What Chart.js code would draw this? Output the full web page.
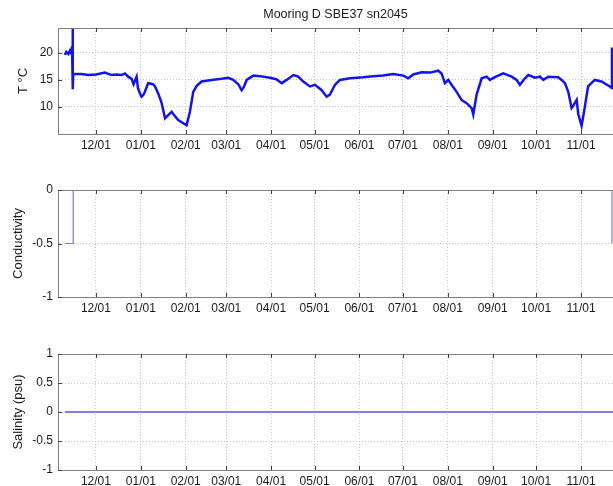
<!DOCTYPE html>
<html>
<head>
<meta charset="utf-8">
<title>Mooring D SBE37 sn2045</title>
<script src="https://cdn.jsdelivr.net/npm/chart.js@4.4.0/dist/chart.umd.min.js"></script>
<style>
  html, body { margin: 0; padding: 0; background: #fff; overflow: hidden; }
  #wrap { position: relative; width: 613px; height: 486px; }
  #wrap canvas { position: absolute; left: 0; top: 0; }
</style>
</head>
<body>
<div id="wrap">
  <canvas id="temp" width="613" height="486"></canvas>
  <canvas id="cond" width="613" height="486"></canvas>
  <canvas id="sal" width="613" height="486"></canvas>
</div>
<script>
// days counted from 11/01 of the first year
const monthDays = [30, 61, 92, 120, 151, 181, 212, 242, 273, 304, 334, 365];
const monthLabels = ['12/01', '01/01', '02/01', '03/01', '04/01', '05/01',
                     '06/01', '07/01', '08/01', '09/01', '10/01', '11/01'];
const xMin = 3.8;
const xMax = 387.1;

// temperature
const tempDays = [8.6, 9.5, 10.3, 11, 12, 12.8, 13.5, 13.9, 14.0, 14.1, 14.3, 15.5, 20, 24.7, 30,
  36.2, 40.8, 44, 47.7, 50, 52.3, 54.7, 56, 56.9, 58.1, 59, 60.4, 61.5, 62.7, 63.8,
  66.1, 68, 69.6, 70.8, 73, 75.4, 77.7, 79.9, 82.3, 84.6, 86.8, 90.3, 92.6, 94.9, 97.2,
  99.6, 103, 109.9, 116.8, 121.4, 124.8, 128.3, 130.6, 132, 134.1, 138.7, 143.3, 150.2, 154.8,
  158.3, 161.7, 166.3, 169.7, 173.2, 177.8, 181.3, 185.9, 189.3, 191.6, 195.1, 198.5, 205.4, 214.6,
  221.5, 228.4, 235.3, 242.3, 245.7, 249.2, 254.9, 260.7, 266.4, 268.7, 271.0, 273.3, 275.6, 279.1,
  282.5, 286.0, 289.5, 290.6, 292.9, 296.4, 299.8, 302.1, 305.6, 311.3, 317.1, 320.5, 322.8, 326.3,
  328.6, 333.2, 336.7, 339.0, 342.4, 349.3, 351.6, 353.9, 356.2, 358.5, 359.6, 362.0, 363.1, 365.4,
  367.1, 369.9, 374.5, 379.1, 384.9, 386.2, 386.4];
const tempValues = [19.6, 20.2, 20.0, 19.8, 20.4, 20.0, 21.2, 21.5, 24.6, 13.3, 16.0, 16.1, 16.1, 15.9, 16.0,
  16.35, 15.9, 16.0, 15.9, 16.2, 15.6, 15.2, 14.2, 14.8, 15.6, 13.5, 12.5, 11.9, 12.2, 12.8,
  14.4, 14.3, 14.2, 13.8, 12.5, 10.7, 7.9, 8.5, 9.1, 8.3, 7.6, 7.0, 6.6, 9.1, 12.8,
  13.9, 14.7, 15.0, 15.2, 15.4, 15.0, 14.2, 13.1, 13.6, 15.0, 15.8, 15.7, 15.4, 15.1,
  14.4, 15.0, 15.9, 15.6, 14.7, 13.8, 14.1, 13.1, 11.9, 12.3, 14.1, 15.0, 15.3, 15.5,
  15.7, 15.8, 16.1, 15.8, 15.3, 16.0, 16.4, 16.35, 16.7, 16.2, 14.4, 15.0, 14.1, 12.8,
  11.3, 10.7, 9.8, 8.6, 12.3, 15.3, 15.6, 15.0, 15.5, 16.2, 15.6, 15.0, 14.1, 15.3,
  15.9, 15.4, 15.6, 15.0, 15.6, 15.5, 15.0, 14.4, 12.8, 9.8, 10.2, 11.3, 8.7, 6.5,
  9.1, 13.8, 15.0, 14.7, 13.8, 13.5, 21.0];

const condDays = [8.6, 14.3, 14.3, 386.4, 386.4];
const condValues = [-0.5, -0.5, 0, 0, -0.5];

const salDays = [8.6, 387.1];
const salValues = [0, 0];

const tempTicks = [10, 15, 20];
const condTicks = [-1, -0.5, 0];
const salTicks = [-1, -0.5, 0, 0.5, 1];

const textColor = '#1a1a1a';
const fontFamily = '"Liberation Sans", Arial, sans-serif';

// top edge of the box and the small inner tick marks (matlab style)
const frame = {
  id: 'frame',
  afterDatasetsDraw(chart) {
    const { ctx, chartArea: a, scales } = chart;
    ctx.save();
    ctx.strokeStyle = '#808080';
    ctx.lineWidth = 1;
    ctx.beginPath();
    ctx.moveTo(a.left, a.top + 0.5);
    ctx.lineTo(a.right, a.top + 0.5);
    ctx.stroke();
    ctx.strokeStyle = '#404040';
    ctx.beginPath();
    scales.x.ticks.forEach(t => {
      const px = Math.round(scales.x.getPixelForValue(t.value)) + 0.5;
      ctx.moveTo(px, a.bottom); ctx.lineTo(px, a.bottom - 4);
      ctx.moveTo(px, a.top); ctx.lineTo(px, a.top + 4);
    });
    scales.y.ticks.forEach(t => {
      const py = Math.round(scales.y.getPixelForValue(t.value)) + 0.5;
      ctx.moveTo(a.left, py); ctx.lineTo(a.left + 4, py);
    });
    ctx.stroke();
    ctx.restore();
  }
};

function panel(id, cfg) {
  const points = cfg.days.map((d, i) => ({ x: d, y: cfg.values[i] }));
  return new Chart(document.getElementById(id), {
    type: 'line',
    data: {
      datasets: [{
        data: points,
        borderColor: cfg.color,
        borderWidth: cfg.lineWidth,
        pointRadius: 0,
        tension: 0,
        fill: false
      }]
    },
    options: {
      responsive: false,
      animation: false,
      events: [],
      layout: { padding: cfg.padding },
      plugins: {
        legend: { display: false },
        tooltip: { enabled: false },
        title: cfg.title ? {
          display: true,
          text: cfg.title,
          fullSize: false,
          color: textColor,
          font: { family: fontFamily, size: 12.5, weight: 'normal' },
          padding: { top: 7, bottom: 6 }
        } : { display: false }
      },
      scales: {
        x: {
          type: 'linear',
          min: xMin,
          max: xMax,
          afterBuildTicks: s => { s.ticks = monthDays.map(v => ({ value: v })); },
          afterFit: s => { s.height = cfg.xHeight; },
          ticks: {
            callback: v => monthLabels[monthDays.indexOf(v)],
            color: textColor,
            font: { family: fontFamily, size: 12 },
            padding: 4,
            maxRotation: 0,
            autoSkip: false
          },
          grid: { color: '#c4c4c4', drawTicks: false },
          border: { color: '#808080', dash: [1, 2] }
        },
        y: {
          type: 'linear',
          min: cfg.yMin,
          max: cfg.yMax,
          afterBuildTicks: s => { s.ticks = cfg.yTicks.map(v => ({ value: v })); },
          afterFit: s => { s.width = 58; },
          ticks: {
            callback: v => String(v),
            color: textColor,
            font: { family: fontFamily, size: 12 },
            padding: 5
          },
          title: {
            display: true,
            text: cfg.yTitle,
            color: textColor,
            font: { family: fontFamily, size: 13 },
            padding: { top: cfg.yTitlePad, bottom: 0 }
          },
          grid: { color: '#c4c4c4', drawTicks: false },
          border: { color: '#808080', dash: [1, 2] }
        }
      }
    },
    plugins: [frame]
  });
}

panel('temp', {
  days: tempDays, values: tempValues, color: '#1414e6', lineWidth: 2.5,
  yMin: 5, yMax: 24.6, yTicks: tempTicks, yTitle: 'T °C', yTitlePad: 16,
  title: 'Mooring D SBE37 sn2045',
  padding: { top: 0, left: 0, right: 0, bottom: 332 }, xHeight: 20
});

panel('cond', {
  days: condDays, values: condValues, color: '#7a7ad8', lineWidth: 1.2,
  yMin: -1, yMax: 0, yTicks: condTicks, yTitle: 'Conductivity', yTitlePad: 11,
  padding: { top: 190, left: 0, right: 0, bottom: 169 }, xHeight: 20
});

panel('sal', {
  days: salDays, values: salValues, color: '#8080d4', lineWidth: 1.8,
  yMin: -1, yMax: 1, yTicks: salTicks, yTitle: 'Salinity (psu)', yTitlePad: 11,
  padding: { top: 354, left: 0, right: 0, bottom: 0 }, xHeight: 16
});
</script>
</body>
</html>
